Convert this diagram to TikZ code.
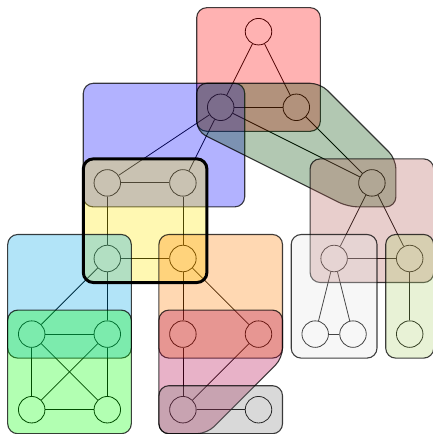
\documentclass[tikz,border=0pt]{standalone}
\definecolor{cRed}{RGB}{255,0,0}
\definecolor{cBlue}{RGB}{0,0,255}
\definecolor{cHullG}{RGB}{0,72,0}
\definecolor{cRosy}{RGB}{178,92,85}
\definecolor{cYellow}{RGB}{255,232,0}
\definecolor{cCyan}{RGB}{0,165,232}
\definecolor{cGreen}{RGB}{0,255,0}
\definecolor{cOrange}{RGB}{255,125,0}
\definecolor{cPink}{RGB}{178,0,72}
\definecolor{cGray}{RGB}{128,128,128}
\definecolor{cWhite}{RGB}{228,228,228}
\definecolor{cLime}{RGB}{178,212,118}
\begin{document}
\begin{tikzpicture}[x=75.6pt,y=-75.6pt,
  vert/.style={circle,draw=black,line width=0.8pt,minimum size=26.5pt,inner sep=0pt},
  edge/.style={draw=black,line width=0.8pt},
  hbox/.style={fill opacity=0.3,draw=black,draw opacity=0.75,line width=1.1pt,rounded corners=10pt},
  thickbox/.style={draw=black,line width=3pt,rounded corners=10pt}]
\useasboundingbox (-0.4193,-0.4193) rectangle (5.2950,5.3214);
\def\p{0.3175}
% vertices
\node[vert] (A) at (3,0) {};
\node[vert] (B) at (2.5,1) {};
\node[vert] (C) at (3.5,1) {};
\node[vert] (D) at (4.5,2) {};
\node[vert] (E) at (1,2) {};
\node[vert] (F) at (2,2) {};
\node[vert] (G) at (1,3) {};
\node[vert] (H) at (2,3) {};
\node[vert] (I) at (4,3) {};
\node[vert] (J) at (5,3) {};
\node[vert] (K) at (0,4) {};
\node[vert] (L) at (1,4) {};
\node[vert] (M) at (0,5) {};
\node[vert] (N) at (1,5) {};
\node[vert] (O) at (2,4) {};
\node[vert] (P) at (3,4) {};
\node[vert] (Q) at (2,5) {};
\node[vert] (R) at (3,5) {};
\node[vert] (S) at (3.75,4) {};
\node[vert] (T) at (4.25,4) {};
\node[vert] (U) at (5,4) {};
% edges
\draw[edge] (A) -- (B);
\draw[edge] (A) -- (C);
\draw[edge] (B) -- (C);
\draw[edge] (B) -- (D);
\draw[edge] (C) -- (D);
\draw[edge] (B) -- (E);
\draw[edge] (B) -- (F);
\draw[edge] (E) -- (F);
\draw[edge] (E) -- (G);
\draw[edge] (F) -- (H);
\draw[edge] (G) -- (H);
\draw[edge] (G) -- (K);
\draw[edge] (G) -- (L);
\draw[edge] (K) -- (L);
\draw[edge] (K) -- (M);
\draw[edge] (K) -- (N);
\draw[edge] (L) -- (M);
\draw[edge] (L) -- (N);
\draw[edge] (M) -- (N);
\draw[edge] (H) -- (O);
\draw[edge] (H) -- (P);
\draw[edge] (O) -- (Q);
\draw[edge] (P) -- (Q);
\draw[edge] (Q) -- (R);
\draw[edge] (D) -- (I);
\draw[edge] (D) -- (J);
\draw[edge] (I) -- (J);
\draw[edge] (I) -- (S);
\draw[edge] (I) -- (T);
\draw[edge] (S) -- (T);
\draw[edge] (J) -- (U);
% hyperedges
\path[hbox,fill=cRed] ({2.5-\p},{0-\p}) rectangle ({3.5+\p},{1+\p});
\path[hbox,fill=cBlue] ({1-\p},{1-\p}) rectangle ({2.5+\p},{2+\p});
\path[hbox,fill=cHullG] ({2.5-\p},{1-\p}) -- ({3.5+\p},{1-\p}) -- ({4.5+\p},{2-\p}) -- ({4.5+\p},{2+\p}) -- ({4.5-\p},{2+\p}) -- ({2.5-\p},{1+\p}) -- cycle;
\path[hbox,fill=cRosy] ({4-\p},{2-\p}) rectangle ({5+\p},{3+\p});
\path[hbox,fill=cYellow,draw=none] ({1-\p},{2-\p}) rectangle ({2+\p},{3+\p});
\path[hbox,fill=cCyan] ({0-\p},{3-\p}) rectangle ({1+\p},{4+\p});
\path[hbox,fill=cGreen] ({0-\p},{4-\p}) rectangle ({1+\p},{5+\p});
\path[hbox,fill=cOrange] ({2-\p},{3-\p}) rectangle ({3+\p},{4+\p});
\path[hbox,fill=cPink] ({2-\p},{4-\p}) -- ({3+\p},{4-\p}) -- ({3+\p},{4+\p}) -- ({2+\p},{5+\p}) -- ({2-\p},{5+\p}) -- cycle;
\path[hbox,fill=cGray] ({2-\p},{5-\p}) rectangle ({3+\p},{5+\p});
\path[hbox,fill=cWhite] ({3.75-\p},{3-\p}) rectangle ({4.25+\p},{4+\p});
\path[hbox,fill=cLime] ({5-\p},{3-\p}) rectangle ({5+\p},{4+\p});
\path[thickbox] ({1-\p},{2-\p}) rectangle ({2+\p},{3+\p});
\end{tikzpicture}
\end{document}
